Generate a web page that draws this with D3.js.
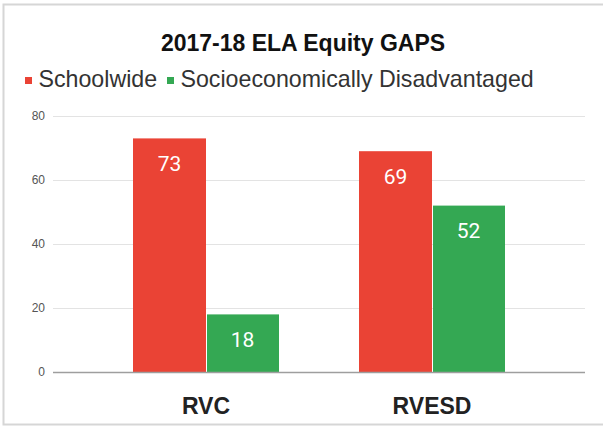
<!DOCTYPE html>
<html><head><meta charset="utf-8">
<script src="https://cdn.jsdelivr.net/npm/d3@7"></script>
<style>body{margin:0;background:#fff}svg{display:block}</style>
</head><body>
<script>
const categories = ["RVC", "RVESD"];
const seriesNames = ["Schoolwide", "Socioeconomically Disadvantaged"];
const schoolwide = [73, 69];
const socioDisadvantaged = [18, 52];
const yTicks = [0, 20, 40, 60, 80];
const colors = ["#ea4335", "#34a853"];

const W = 603, H = 427;
const svg = d3.select("body").append("svg").attr("width", W).attr("height", H);
svg.append("rect").attr("width", W).attr("height", H).attr("fill", "#fff");
// frame
svg.append("rect").attr("x", 3.5).attr("y", 4.5).attr("width", 620).attr("height", 420)
  .attr("fill", "none").attr("stroke", "#d6d6d6").attr("stroke-width", 2);

const x = d3.scaleBand().domain(categories).range([93, 545]).paddingInner(0.354).paddingOuter(0.177);
const x1 = d3.scaleBand().domain(seriesNames).range([0, x.bandwidth()]);
const y = d3.scaleLinear().domain([0, 80]).range([372, 116]);

// gridlines
svg.append("g").selectAll("line").data(yTicks.filter(d => d > 0)).join("line")
  .attr("x1", 53).attr("x2", 585).attr("y1", d => y(d) + 0.5).attr("y2", d => y(d) + 0.5)
  .attr("stroke", "#e3e3e3").attr("stroke-width", 1);

// y axis labels
const yAxis = d3.axisLeft(y).tickValues(yTicks).tickSize(0).tickPadding(8);
const ya = svg.append("g").attr("transform", "translate(53,0)").call(yAxis);
ya.select(".domain").remove();
ya.selectAll("text").attr("font-family", "Liberation Sans, Arial, sans-serif").attr("font-size", 12).attr("fill", "#555");

const data = categories.map((c, i) => ({cat: c, vals: [schoolwide[i], socioDisadvantaged[i]]}));
const groups = svg.append("g").selectAll("g").data(data).join("g")
  .attr("transform", d => `translate(${x(d.cat)},0)`);
groups.selectAll("rect").data(d => d.vals.map((v, j) => ({v, s: seriesNames[j], j}))).join("rect")
  .attr("x", d => x1(d.s) + (d.j === 1 ? 1 : 0))
  .attr("width", d => x1.bandwidth() - (d.j === 1 ? 1 : 0))
  .attr("y", d => y(d.v)).attr("height", d => y(0) - y(d.v))
  .attr("fill", d => colors[d.j]);
groups.selectAll("text").data(d => d.vals.map((v, j) => ({v, s: seriesNames[j], j}))).join("text")
  .attr("x", d => x1(d.s) + x1.bandwidth() / 2)
  .attr("y", d => y(d.v) + 32.5)
  .attr("text-anchor", "middle").attr("fill", "#fff")
  .attr("font-family", "Roboto, sans-serif").attr("font-size", 21)
  .text(d => d.v);

// baseline
svg.append("line").attr("x1", 53).attr("x2", 585).attr("y1", y(0) + 0.5).attr("y2", y(0) + 0.5)
  .attr("stroke", "#9e9e9e").attr("stroke-width", 1.5);

// x labels
const xAxis = d3.axisBottom(x).tickSize(0).tickPadding(0);
const xa = svg.append("g").attr("transform", `translate(0,${y(0)})`).call(xAxis);
xa.select(".domain").remove();
xa.selectAll("text").attr("dy", null).attr("y", 42)
  .attr("font-family", "Liberation Sans, Arial, sans-serif").attr("font-size", 23).attr("font-weight", "bold").attr("fill", "#222");

// title
svg.append("text").attr("x", 303).attr("y", 51).attr("text-anchor", "middle")
  .attr("font-family", "Liberation Sans, Arial, sans-serif").attr("font-size", 23).attr("font-weight", "bold").attr("fill", "#111")
  .text("2017-18 ELA Equity GAPS");

// legend
const legX = [25, 167];
const leg = svg.append("g").selectAll("g").data(seriesNames).join("g")
  .attr("transform", (d, i) => `translate(${legX[i]},0)`);
leg.append("rect").attr("x", 0).attr("y", 77).attr("width", 7).attr("height", 7).attr("fill", (d, i) => colors[i]);
leg.append("text").attr("x", 13.5).attr("y", 87)
  .attr("font-family", "Liberation Sans, Arial, sans-serif").attr("font-size", 23.2).attr("fill", "#333")
  .text(d => d);
</script>
</body></html>
